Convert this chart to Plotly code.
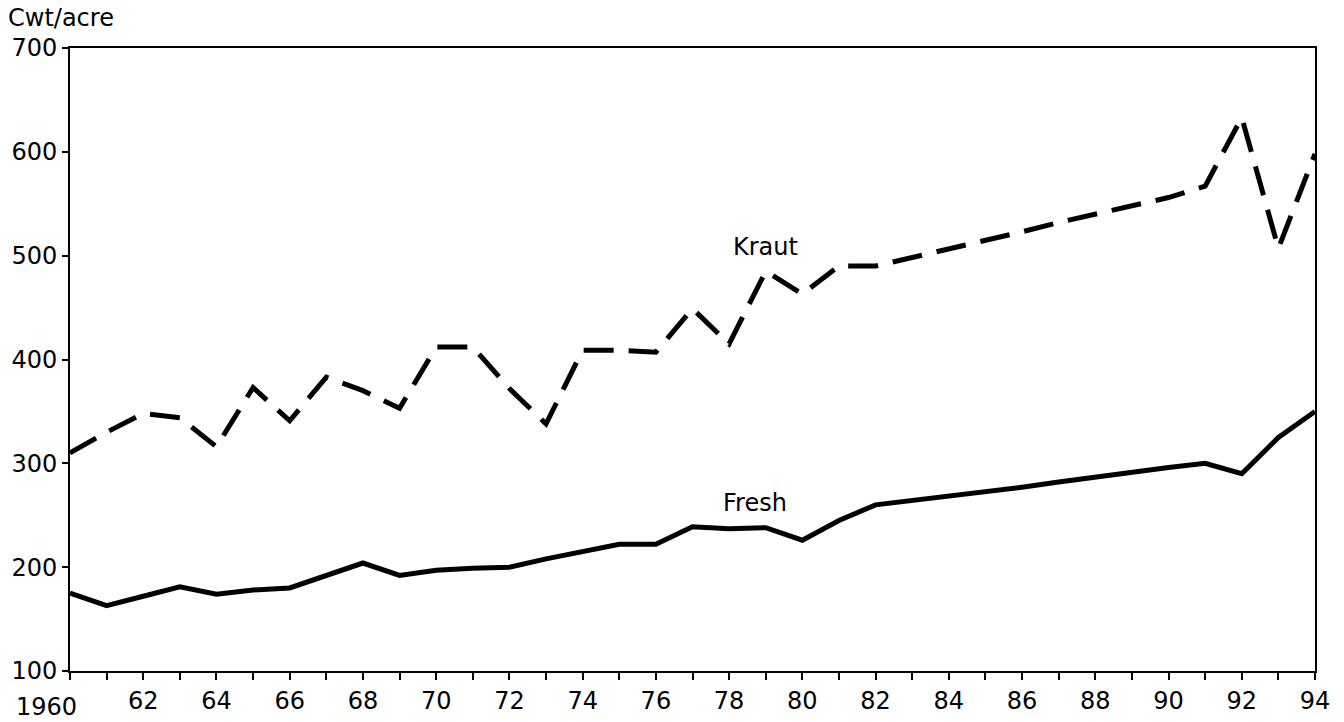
import plotly.graph_objects as go

years = list(range(1960, 1995))
kraut = [310, 330, 348, 344, 316, 373, 341, 383, 370, 353, 412, 412, 372, 338, 409, 409, 407,
         449, 415, 485, 463, 490, 490, 498, 507, 515, 523, 532, 540, 548, 556, 567, 633, 507, 598]
fresh = [175, 163, 172, 181, 174, 178, 180, 192, 204, 192, 197, 199, 200, 208, 215, 222, 222,
         239, 237, 238, 226, 245, 260, 264, 268, 272, 277, 282, 287, 291, 296, 300, 290, 325, 350]
xtick_vals = list(range(1962, 1995, 2))
xtick_text = ["62", "64", "66", "68", "70", "72", "74", "76", "78", "80", "82", "84", "86",
              "88", "90", "92", "94"]
ytick_vals = [100, 200, 300, 400, 500, 600, 700]

font = dict(family="DejaVu Sans, Liberation Sans, Arial, sans-serif", size=24, color="black")

fig = go.Figure()
fig.add_trace(go.Scatter(x=years, y=kraut, mode="lines", name="Kraut",
                         line=dict(color="black", width=5, dash="30px,15px")))
fig.add_trace(go.Scatter(x=years, y=fresh, mode="lines", name="Fresh",
                         line=dict(color="black", width=5)))

fig.update_layout(
    width=1344, height=722,
    margin=dict(l=70, r=29, t=48, b=51, autoexpand=False),
    paper_bgcolor="white", plot_bgcolor="white",
    showlegend=False, font=font,
    xaxis=dict(range=[1960, 1994], tickvals=xtick_vals, ticktext=xtick_text,
               showgrid=False, zeroline=False, showline=True, linecolor="black",
               linewidth=2, mirror=True, ticks="outside", ticklen=7, tickwidth=2,
               tickcolor="black", automargin=False,
               minor=dict(dtick=1, ticks="outside", ticklen=7, tickwidth=2,
                          tickcolor="black"),
               tickfont=font),
    yaxis=dict(range=[100, 700], tickvals=ytick_vals, showgrid=False, zeroline=False,
               showline=True, linecolor="black", linewidth=2, mirror=True,
               ticks="outside", ticklen=6, tickwidth=2, tickcolor="black",
               automargin=False, tickfont=font),
    annotations=[
        dict(text="Cwt/acre", x=0, y=1, xref="paper", yref="paper", xshift=-64, yshift=14,
             xanchor="left", yanchor="bottom", showarrow=False, font=font),
        dict(text="1960", x=1960, y=0, xref="x", yref="paper", xshift=-24, yshift=-20,
             xanchor="center", yanchor="top", showarrow=False, font=font),
        dict(text="Kraut", x=1979, y=508, xref="x", yref="y", showarrow=False, font=font),
        dict(text="Fresh", x=1978.7, y=262, xref="x", yref="y", showarrow=False, font=font),
    ],
)

fig.write_html("out.html", config={"displayModeBar": False},
               post_script="document.body.style.margin='0';")
